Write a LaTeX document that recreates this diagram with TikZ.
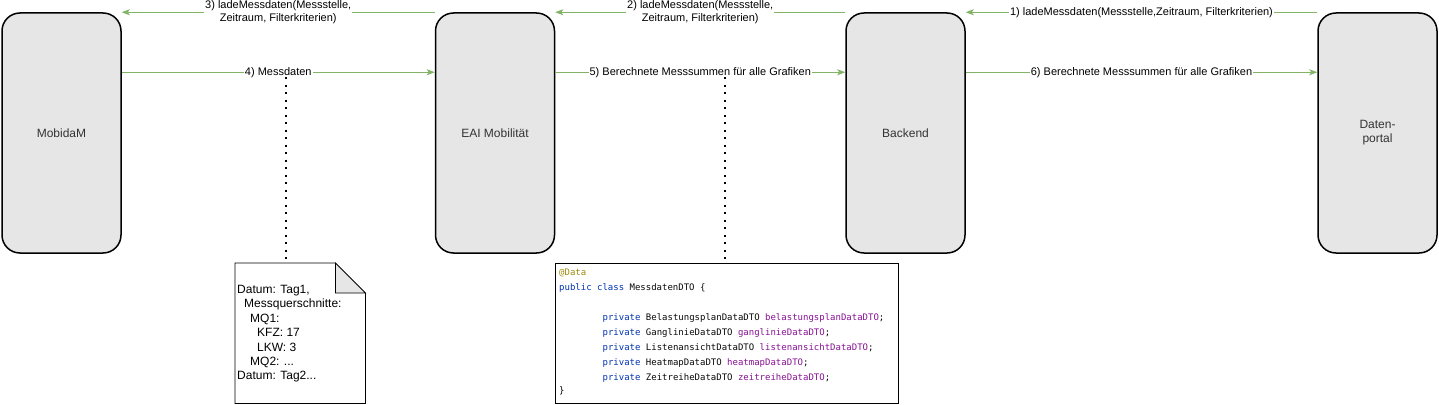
\documentclass[tikz,border=0pt]{standalone}
\usepackage{fontspec}
\setmainfont{Liberation Sans}
\newfontfamily\codefont{DejaVu Sans Mono}
\usetikzlibrary{arrows.meta,calc}
\definecolor{arrgreen}{HTML}{82B366}
\definecolor{boxfill}{HTML}{E6E6E6}
\definecolor{boxtext}{HTML}{333333}
\definecolor{annot}{HTML}{9E880D}
\definecolor{kw}{HTML}{0033B3}
\definecolor{fld}{HTML}{871094}
\definecolor{typ}{HTML}{080808}
\begin{document}
\begin{tikzpicture}[x=1pt,y=-1pt,
  sysbox/.style={draw=black, line width=1.5pt, fill=boxfill, rounded corners=18pt,
    minimum width=119pt, minimum height=240pt, inner sep=0pt,
    font=\fontsize{12}{14}\selectfont, text=boxtext, align=center},
  flow/.style={draw=arrgreen, line width=0.8pt, -{Stealth[length=8pt,width=6pt,inset=2pt]}},
  lbl/.style={fill=white, inner sep=1pt, font=\fontsize{11}{13}\selectfont, text=black, align=center},
  dotline/.style={draw=black, line width=2pt, dash pattern=on 2pt off 5.5pt},
  codeline/.style={inner sep=0pt, anchor=north west, font=\codefont\fontsize{9}{15}\selectfont, align=left}
]
\useasboundingbox (0,0) rectangle (1439,404);

% systems
\node[sysbox] (mob) at (61.5,133) {MobidaM};
\node[sysbox] (eai) at (495,133) {EAI Mobilität};
\node[sysbox] (be) at (905.5,133) {Backend};
\node[sysbox] (dp) at (1377.5,133) {Daten-\\portal};

% requests (top)
\draw[flow] (dp.north west) -- node[lbl] (l1) {1) ladeMessdaten(Messstelle,Zeitraum, Filterkriterien)} (be.north east);
\draw[flow] (be.north west) -- node[lbl] (l2) {2) ladeMessdaten(Messstelle,\\Zeitraum, Filterkriterien)} (eai.north east);
\draw[flow] (eai.north west) -- node[lbl] (l3) {3) ladeMessdaten(Messstelle,\\Zeitraum, Filterkriterien)} (mob.north east);

% responses
\draw[flow] ($(mob.north east)+(0,60)$) -- node[lbl] (l4) {4) Messdaten} ($(eai.north west)+(0,60)$);
\draw[flow] ($(eai.north east)+(0,60)$) -- node[lbl] (l5) {5) Berechnete Messsummen für alle Grafiken} ($(be.north west)+(0,60)$);
\draw[flow] ($(be.north east)+(0,60)$) -- node[lbl] (l6) {6) Berechnete Messsummen für alle Grafiken} ($(dp.north west)+(0,60)$);

% note
\node[minimum width=130pt, minimum height=140pt, inner sep=0pt, anchor=north west] (note) at (235,263) {};
\draw[line width=0.8pt, fill=white] (note.north west) -- ($(note.north east)+(-30,0)$) -- ($(note.north east)+(0,30)$) -- (note.south east) -- (note.south west) -- cycle;
\draw[line width=0.8pt, fill=boxfill] ($(note.north east)+(-30,0)$) -- ($(note.north east)+(-30,30)$) -- ($(note.north east)+(0,30)$) -- cycle;
\node[inner sep=0pt, anchor=north west, align=left, font=\fontsize{12}{14.4}\selectfont] (notetxt) at (237,285)
  {Datum: Tag1,\\
   \hspace*{7pt}Messquerschnitte:\\
   \hspace*{13pt}MQ1:\\
   \hspace*{20pt}KFZ: 17\\
   \hspace*{20pt}LKW: 3\\
   \hspace*{13pt}MQ2: ...\\
   Datum: Tag2...};

% code box
\node[draw=black, line width=1pt, minimum width=343pt, minimum height=140pt, inner sep=0pt, anchor=north west] (code) at (555,263) {};
\node[codeline] (codetxt) at (559,268.5)
  {{\color{annot}@Data}\\
   {\color{kw}public class} {\color{typ}MessdatenDTO \{}\\[15pt]
   \hspace*{43.4pt}{\color{kw}private} {\color{typ}BelastungsplanDataDTO} {\color{fld}belastungsplanDataDTO};\\
   \hspace*{43.4pt}{\color{kw}private} {\color{typ}GanglinieDataDTO} {\color{fld}ganglinieDataDTO};\\
   \hspace*{43.4pt}{\color{kw}private} {\color{typ}ListenansichtDataDTO} {\color{fld}listenansichtDataDTO};\\
   \hspace*{43.4pt}{\color{kw}private} {\color{typ}HeatmapDataDTO} {\color{fld}heatmapDataDTO};\\
   \hspace*{43.4pt}{\color{kw}private} {\color{typ}ZeitreiheDataDTO} {\color{fld}zeitreiheDataDTO};\\[-2pt]
   \}};

% dotted connectors
\coordinate (d1) at (286,77);
\coordinate (d2) at (725,77);
\draw[dotline] (d1) -- (d1 |- note.north);
\draw[dotline] (d2) -- (d2 |- code.north);
\end{tikzpicture}
\end{document}
